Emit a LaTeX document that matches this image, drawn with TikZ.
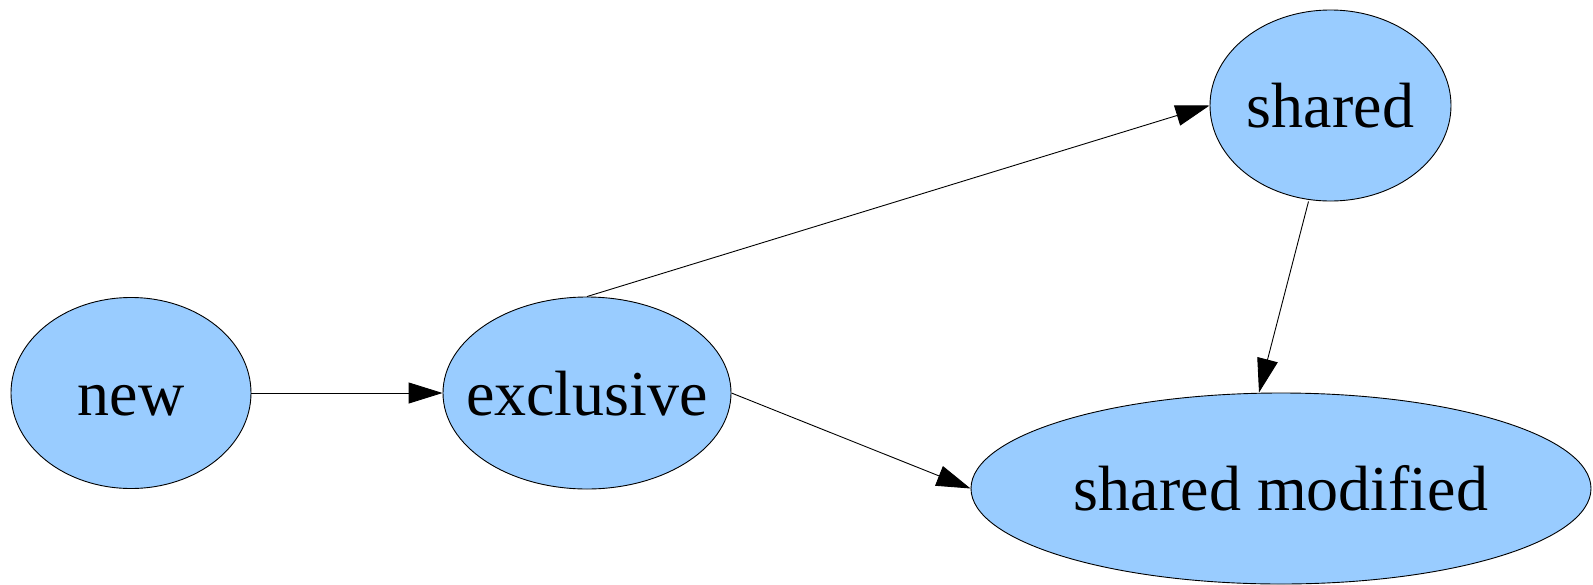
\documentclass[tikz,border=0pt]{standalone}
\usepackage{fontspec}
\setmainfont{Liberation Serif}
\usetikzlibrary{shapes.geometric,arrows.meta}
\definecolor{nodeblue}{HTML}{99CCFF}
\tikzset{
  state/.style={ellipse, draw=black, line width=0.9pt, fill=nodeblue, inner sep=0pt},
  statetext/.style={font=\fontsize{64}{70}\selectfont, text height=44pt, text depth=0pt, inner sep=0pt},
  conn/.style={draw=black, line width=0.9pt, -{Triangle[length=34pt,width=21pt]}}
}
\begin{document}
\begin{tikzpicture}[x=1pt,y=-1pt]
\useasboundingbox (0,0) rectangle (1593,584);
\node[state, minimum width=240pt, minimum height=191pt,
  label={[statetext]center:new}] (new) at (131,393) {};
\node[state, minimum width=288pt, minimum height=192pt,
  label={[statetext]center:exclusive}] (excl) at (587,393) {};
\node[state, minimum width=241pt, minimum height=191pt,
  label={[statetext]center:shared}] (shared) at (1330.5,105.5) {};
\node[state, minimum width=620pt, minimum height=191pt,
  label={[statetext]center:shared modified}] (sm) at (1281,488.5) {};
\draw[conn] (new.east) -- (excl.west);
\draw[conn] (excl.north) -- (shared.west);
\draw[conn] (excl.east) -- (sm.west);
\draw[conn] ([xshift=-22pt]shared.south) -- ([xshift=-22pt]sm.north);
\end{tikzpicture}
\end{document}
